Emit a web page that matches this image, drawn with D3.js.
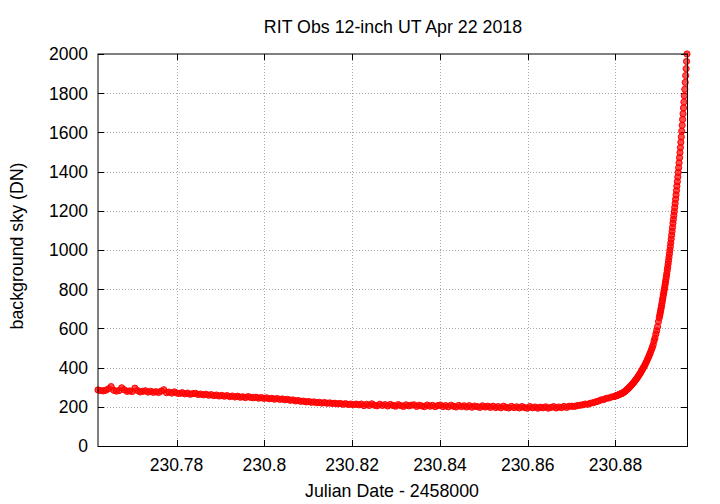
<!DOCTYPE html>
<html><head><meta charset="utf-8">
<script src="https://cdn.jsdelivr.net/npm/d3@7"></script>
<style>
body{margin:0;background:#fff}
svg{display:block}
text{font-family:"Liberation Sans",Arial,Helvetica,sans-serif;fill:#000}
</style>
</head><body>
<svg id="chart" width="720" height="504"></svg>
<script>
const title = "RIT Obs 12-inch UT Apr 22 2018";
const xLabel = "Julian Date - 2458000";
const yLabel = "background sky (DN)";
const xDomain = [230.7621, 230.8963];
const yDomain = [0, 2000];
const xTicks = [230.78, 230.80, 230.82, 230.84, 230.86, 230.88];
const xTickLabels = ["230.78", "230.8", "230.82", "230.84", "230.86", "230.88"];
const yTicks = [0, 200, 400, 600, 800, 1000, 1200, 1400, 1600, 1800, 2000];
const yTickLabels = ["0", "200", "400", "600", "800", "1000", "1200", "1400", "1600", "1800", "2000"];

const jd = [
230.7621,230.7627,230.7633,230.7639,230.7645,230.7651,230.7657,230.7663,230.7669,230.7675,
230.7681,230.7687,230.7693,230.7699,230.7705,230.7711,230.7717,230.7723,230.7729,230.7735,
230.7741,230.7747,230.7753,230.7759,230.7765,230.7771,230.7777,230.7783,230.7789,230.7795,
230.7801,230.7807,230.7813,230.7819,230.7825,230.7831,230.7837,230.7843,230.7849,230.7855,
230.7861,230.7867,230.7873,230.7879,230.7885,230.7891,230.7897,230.7903,230.7909,230.7915,
230.7921,230.7927,230.7933,230.7939,230.7945,230.7951,230.7957,230.7963,230.7969,230.7975,
230.7981,230.7987,230.7993,230.7999,230.8005,230.8011,230.8017,230.8023,230.8029,230.8035,
230.8041,230.8047,230.8053,230.8059,230.8065,230.8071,230.8077,230.8083,230.8089,230.8095,
230.8101,230.8107,230.8113,230.8119,230.8125,230.8131,230.8137,230.8143,230.8149,230.8155,
230.8161,230.8167,230.8173,230.8179,230.8185,230.8191,230.8197,230.8203,230.8209,230.8215,
230.8221,230.8227,230.8233,230.8239,230.8245,230.8251,230.8257,230.8263,230.8269,230.8275,
230.8281,230.8287,230.8293,230.8299,230.8305,230.8311,230.8317,230.8323,230.8329,230.8335,
230.8341,230.8347,230.8353,230.8359,230.8365,230.8371,230.8377,230.8383,230.8389,230.8395,
230.8401,230.8407,230.8413,230.8419,230.8425,230.8431,230.8437,230.8443,230.8449,230.8455,
230.8461,230.8467,230.8473,230.8479,230.8485,230.8491,230.8497,230.8503,230.8509,230.8515,
230.8521,230.8527,230.8533,230.8539,230.8545,230.8551,230.8557,230.8563,230.8569,230.8575,
230.8581,230.8587,230.8593,230.8599,230.8605,230.8611,230.8617,230.8623,230.8629,230.8635,
230.8641,230.8647,230.8653,230.8659,230.8665,230.8671,230.8677,230.8683,230.8689,230.8695,
230.8701,230.8707,230.8713,230.8719,230.8725,230.8731,230.8737,230.8743,230.8749,230.8755,
230.8761,230.8767,230.8773,230.8779,230.8785,230.8791,230.8797,
230.8800,230.8802,230.8804,230.8806,230.8808,230.8810,230.8812,230.8814,230.8816,230.8818,
230.8820,230.8822,230.8824,230.8826,230.8828,230.8830,230.8832,230.8834,230.8836,230.8838,
230.8840,230.8842,230.8844,230.8846,230.8848,230.8850,230.8852,230.8854,230.8856,230.8858,
230.8860,230.8862,230.8864,230.8866,230.8868,230.8870,230.8872,230.8874,230.8876,230.8878,
230.8880,230.8882,230.8884,230.8886,230.8888,230.8890,230.8892,230.8894,230.8896,230.8898,
230.8900,
230.8901,230.8902,230.8903,230.8904,230.8905,230.8906,230.8907,230.8908,230.8909,230.8910,
230.8911,230.8912,230.8913,230.8914,230.8915,230.8916,230.8917,230.8918,230.8919,230.8920,
230.8921,230.8922,230.8923,230.8924,230.8925,230.8926,230.8927,230.8928,230.8929,230.8930,
230.8931,230.8932,230.8933,230.8934,230.8935,230.8936,230.8937,230.8938,230.8939,230.8940,
230.8941,230.8942,230.8943,230.8944,230.8945,230.8946,230.8947,230.8948,230.8949,230.8950,
230.8951,230.8952,230.8953,230.8954,230.8955,230.8956,230.8957,230.8958,230.8959,230.8960,
230.8961,230.8962,230.8963
];

const sky = [
286,283,281,285,292,303,284,280,283,297,
287,279,281,278,295,283,276,279,282,275,
279,274,277,273,280,287,272,275,270,276,
270,268,272,266,270,264,267,269,263,265,
261,264,259,262,257,260,255,258,254,257,
252,255,250,254,249,251,247,252,248,246,
249,244,247,243,246,241,243,239,242,238,
240,236,238,233,235,230,232,228,229,225,
227,223,225,221,223,219,222,218,220,217,
218,215,217,213,216,212,214,211,214,210,
214,206,213,207,215,208,205,213,207,211,
204,212,207,203,211,206,202,210,205,208,
210,202,208,204,201,209,203,207,201,206,
209,201,206,200,208,203,199,207,201,205,
199,206,198,204,201,197,205,199,203,197,
203,196,201,195,203,197,194,202,196,200,
194,201,196,193,201,195,199,193,198,195,
200,193,197,201,194,199,196,202,197,203,
203,202,206,208,210,214,213,218,221,225,
229,235,237,243,245,250,252,
255,257,258,260,262,264,266,268,270,272,
276,279,283,287,291,295,300,305,310,315,
320,325,331,337,343,349,356,363,370,377,
385,393,401,409,418,427,437,447,457,468,
479,491,503,517,536,551,571,588,609,635,
655,
667,679,691,703,716,729,742,755,769,782,
795,808,822,836,850,865,880,896,912,929,
946,963,981,999,1017,1036,1055,1075,1095,1115,
1137,1156,1176,1196,1217,1238,1259,1281,1303,1326,
1349,1372,1396,1420,1445,1471,1497,1523,1550,1577,
1606,1636,1666,1695,1725,1755,1787,1820,1855,1890,
1925,1962,2000
];

const points = jd.map((d, i) => ({x: d, y: sky[i]}));

const svg = d3.select("#chart");
const L = 98, R = 687, T = 54, B = 446;
const x = d3.scaleLinear().domain(xDomain).range([L, R]);
const y = d3.scaleLinear().domain(yDomain).range([B, T]);
const fs = 17.5;

// grid
const grid = svg.append("g").attr("stroke", "#a9a9a9").attr("stroke-width", 1).attr("stroke-dasharray", "1,2");
grid.selectAll("line.gx").data(xTicks).join("line").attr("class", "gx")
  .attr("x1", d => Math.round(x(d)) + 0.5).attr("x2", d => Math.round(x(d)) + 0.5)
  .attr("y1", T).attr("y2", B);
grid.selectAll("line.gy").data(yTicks.filter(v => v > yDomain[0] && v < yDomain[1])).join("line").attr("class", "gy")
  .attr("x1", L).attr("x2", R)
  .attr("y1", d => Math.round(y(d)) + 0.5).attr("y2", d => Math.round(y(d)) + 0.5);

// ticks (inward, mirrored)
const tk = svg.append("g").attr("stroke", "#000").attr("stroke-width", 1);
xTicks.forEach(v => {
  const px = Math.round(x(v)) + 0.5;
  tk.append("line").attr("x1", px).attr("x2", px).attr("y1", B).attr("y2", B - 6);
  tk.append("line").attr("x1", px).attr("x2", px).attr("y1", T).attr("y2", T + 6);
});
yTicks.forEach(v => {
  const py = Math.round(y(v)) + 0.5;
  tk.append("line").attr("x1", L).attr("x2", L + 6).attr("y1", py).attr("y2", py);
  tk.append("line").attr("x1", R).attr("x2", R - 6).attr("y1", py).attr("y2", py);
});

// points
svg.append("g").selectAll("circle").data(points).join("circle")
  .attr("cx", d => x(d.x)).attr("cy", d => y(d.y)).attr("r", 3.1)
  .attr("fill", "rgba(255,0,0,0.7)").attr("stroke", "#ff0000").attr("stroke-width", 1);

// border
svg.append("rect").attr("x", L).attr("y", T).attr("width", R + 0.5 - L).attr("height", B + 0.5 - T)
  .attr("fill", "none").attr("stroke", "#000").attr("stroke-width", 1);

// tick labels
svg.append("g").selectAll("text").data(xTicks).join("text")
  .attr("x", d => x(d)).attr("y", 471).attr("text-anchor", "middle").attr("font-size", fs)
  .text((d, i) => xTickLabels[i]);
svg.append("g").selectAll("text").data(yTicks).join("text")
  .attr("x", 88).attr("y", d => y(d)).attr("dy", "0.36em").attr("text-anchor", "end").attr("font-size", fs)
  .text((d, i) => yTickLabels[i]);

// titles
svg.append("text").attr("x", 393).attr("y", 33).attr("text-anchor", "middle").attr("font-size", 17.8).text(title);
svg.append("text").attr("x", 392).attr("y", 497).attr("text-anchor", "middle").attr("font-size", 17.8).text(xLabel);
svg.append("text").attr("transform", `translate(23,${(T + B) / 2 - 4}) rotate(-90)`).attr("text-anchor", "middle").attr("font-size", 17.8).text(yLabel);
</script>
</body></html>
